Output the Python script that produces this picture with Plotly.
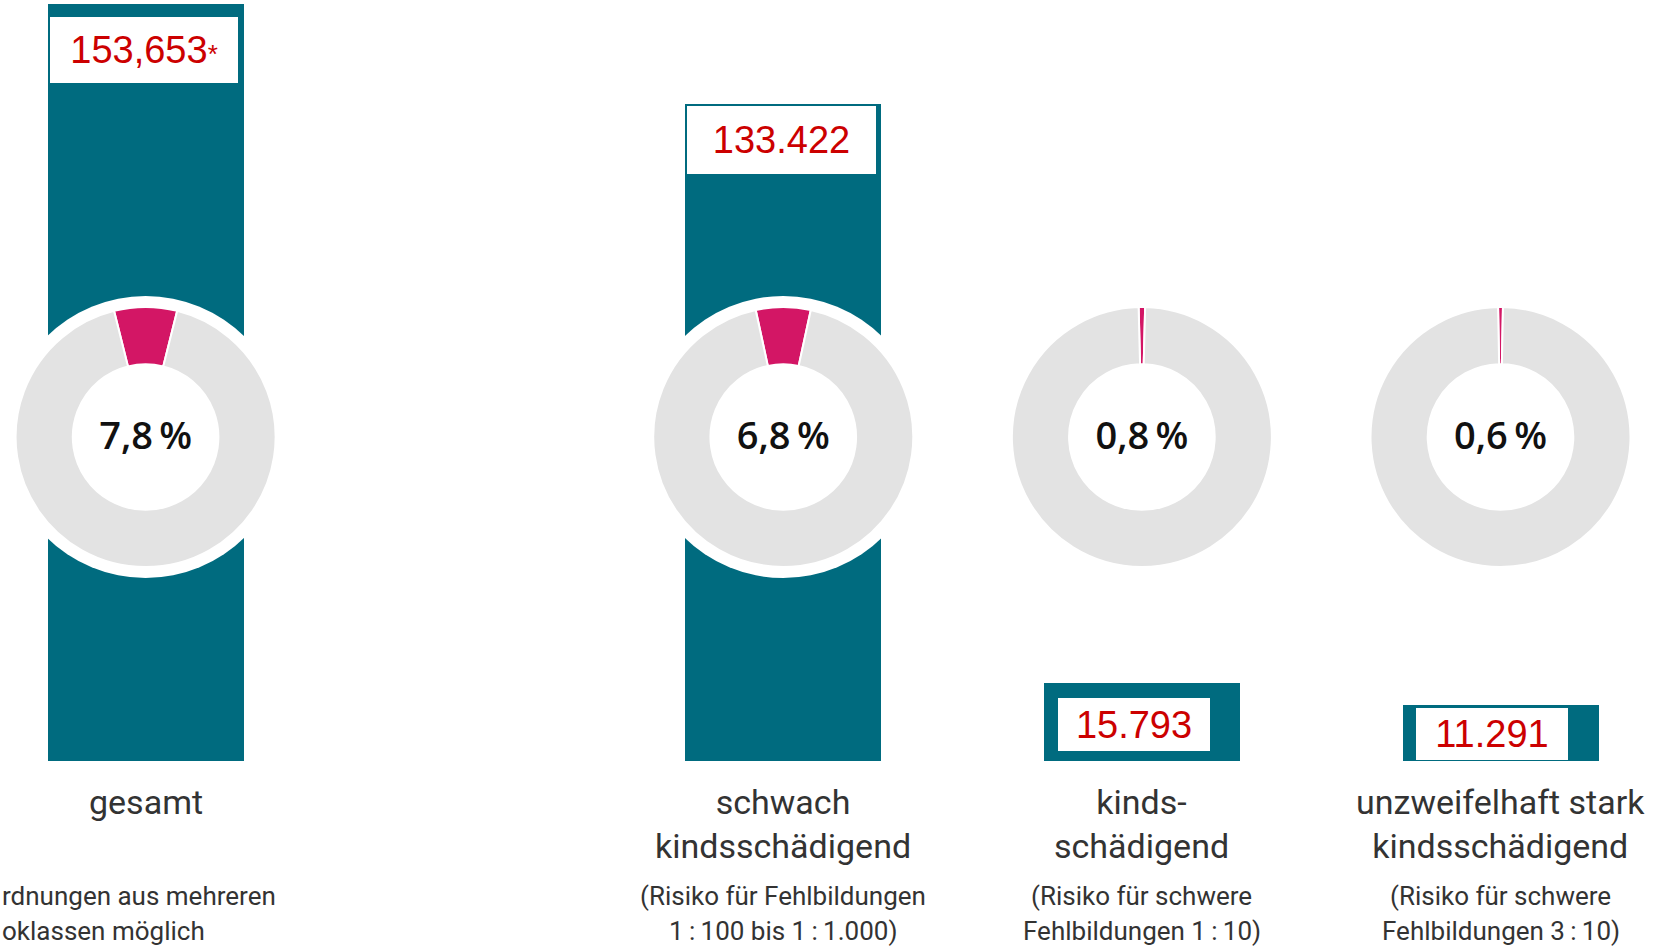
import plotly.graph_objects as go

# --- data -------------------------------------------------------------
CATEGORIES = [
    "gesamt",
    "schwach<br>kindsschädigend",
    "kinds-<br>schädigend",
    "unzweifelhaft stark<br>kindsschädigend",
]
DETAILS = [
    "rdnungen aus mehreren<br>oklassen möglich",
    "(Risiko für Fehlbildungen<br>1\u2009:\u2009100 bis 1\u2009:\u20091.000)",
    "(Risiko für schwere<br>Fehlbildungen 1\u2009:\u200910)",
    "(Risiko für schwere<br>Fehlbildungen 3\u2009:\u200910)",
]
VALUES = [153653, 133422, 15793, 11291]
VALUE_TEXT = ["153,653*", "133.422", "15.793", "11.291"]
SHARES = [7.8, 6.8, 0.8, 0.6]  # percent

# --- layout / style ---------------------------------------------------
W, H = 1661, 947
MARGIN = dict(l=0, r=0, t=4, b=186)
X_POS = [0, 1.778, 2.778, 3.778]
X_RANGE = [-0.406, 4.2255]
BAR_WIDTH = 0.5465

TEAL = "#006B7F"
PINK = "#D31665"
GRAY = "#E3E3E3"
RED = "#CC0000"
TEXT = "#333333"

PIE_CY = 437      # px from top
R_HALO = 141
R_RING = 130
HOLE = 0.56

# white number boxes: (xshift, offset below bar top, width, height) in px
BOXES = [(-1.6, 13, 188, 66), (-2, 2, 189, 68), (-8, 15, 152, 53), (-8.5, 2.5, 152, 52)]
DETAIL_LINE_Y = [896, 931]   # px from top, line centres

plot_w = W - MARGIN["l"] - MARGIN["r"]
plot_h = H - MARGIN["t"] - MARGIN["b"]
plot_bottom = H - MARGIN["b"]


def to_px(x):
    return MARGIN["l"] + (x - X_RANGE[0]) / (X_RANGE[1] - X_RANGE[0]) * plot_w


def pie_domain(cx, cy, r):
    xc = (cx - MARGIN["l"]) / plot_w
    yc = (plot_bottom - cy) / plot_h
    return dict(x=[xc - r / plot_w, xc + r / plot_w], y=[yc - r / plot_h, yc + r / plot_h])


fig = go.Figure()
fig.add_trace(
    go.Bar(
        x=X_POS,
        y=VALUES,
        width=BAR_WIDTH,
        marker=dict(color=TEAL, line=dict(width=0)),
        hoverinfo="skip",
    )
)

# white halo behind each donut (also fills the hole)
for xp in X_POS:
    fig.add_trace(
        go.Pie(
            values=[1],
            marker=dict(colors=["white"], line=dict(width=0)),
            domain=pie_domain(to_px(xp), PIE_CY, R_HALO),
            textinfo="none",
            sort=False,
            showlegend=False,
            hoverinfo="skip",
        )
    )

for xp, share in zip(X_POS, SHARES):
    label = f"{share:.1f}".replace(".", ",") + "\u2009%"
    fig.add_trace(
        go.Pie(
            values=[share, 100 - share],
            marker=dict(colors=[PINK, GRAY], line=dict(color="white", width=2)),
            hole=HOLE,
            direction="clockwise",
            rotation=-share * 1.8,
            sort=False,
            domain=pie_domain(to_px(xp), PIE_CY, R_RING),
            textinfo="none",
            showlegend=False,
            hoverinfo="skip",
            title=dict(
                text=label,
                position="middle center",
                font=dict(family="Open Sans", size=38, color="#111111", weight=600),
            ),
        )
    )

# value boxes
for xp, val, txt, (dx, dtop, bw, bh) in zip(X_POS, VALUES, VALUE_TEXT, BOXES):
    fig.add_annotation(
        x=xp, xref="x", xshift=dx,
        y=val, yref="y", yanchor="top", yshift=-dtop,
        text=txt.replace("*", "<span style='font-size:26px'>*</span>"),
        showarrow=False,
        width=bw, height=bh,
        bgcolor="white", borderpad=0, borderwidth=0,
        valign="middle",
        font=dict(family="Liberation Sans, Arial", size=38, color=RED),
    )

# category labels and details
for i, (xp, cat, det) in enumerate(zip(X_POS, CATEGORIES, DETAILS)):
    fig.add_annotation(
        x=xp, xref="x", y=0, yref="paper", yanchor="top", yshift=-19,
        text=cat, showarrow=False,
        font=dict(family="Roboto", size=34, color=TEXT),
    )
    for line, ly in zip(det.split("<br>"), DETAIL_LINE_Y):
        pos = dict(x=0, xref="paper", xanchor="left") if i == 0 else dict(x=xp, xref="x")
        fig.add_annotation(
            **pos,
            y=0, yref="paper", yanchor="middle", yshift=plot_bottom - ly,
            text=line, showarrow=False,
            font=dict(family="Roboto", size=26, color=TEXT),
        )

fig.update_layout(
    width=W,
    height=H,
    margin=MARGIN,
    paper_bgcolor="white",
    plot_bgcolor="white",
    showlegend=False,
    bargap=0,
    xaxis=dict(range=X_RANGE, visible=False, fixedrange=True),
    yaxis=dict(range=[0, max(VALUES)], visible=False, fixedrange=True),
)

# drop the default 8px page margin so the figure fills the window exactly
fig.write_html(
    "out.html",
    config={"displayModeBar": False},
    post_script="document.body.style.margin='0';",
)
